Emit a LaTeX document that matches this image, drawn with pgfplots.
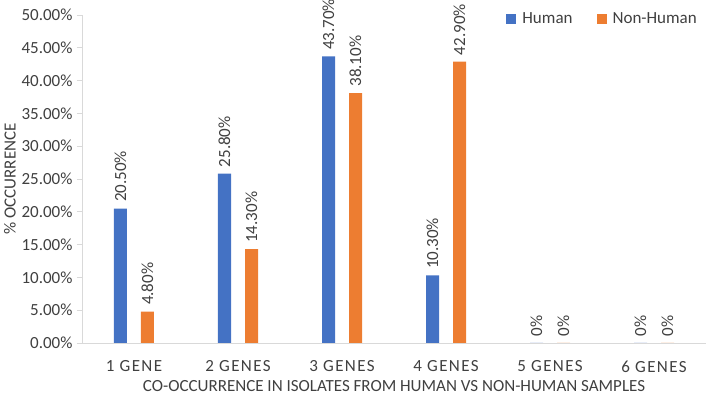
\documentclass[border=0pt]{standalone}
\usepackage{pgfplots}
\pgfplotsset{compat=1.18}
\usepackage{pgfplotstable}
\usepackage{fontspec}
\setmainfont{Carlito}
\newfontfamily\spaced[LetterSpace=8]{Carlito}
\definecolor{cblue}{HTML}{4472C4}
\definecolor{corange}{HTML}{ED7D31}
\definecolor{txt}{HTML}{404040}
\definecolor{axgray}{HTML}{D9D9D9}
\pgfplotstableread{
x human hlab nonhuman nlab
0 20.5 20.50 4.8 4.80
1 25.8 25.80 14.3 14.30
2 43.7 43.70 38.1 38.10
3 10.3 10.30 42.9 42.90
4 0 0 0 0
5 0 0 0 0
}\datatab
\begin{document}
\begin{tikzpicture}
\begin{axis}[
  name=ax,
  scale only axis,
  width=624pt, height=328pt,
  xmin=-0.5, xmax=5.5,
  ymin=0, ymax=50,
  xtick={0,1,2,3,4,5},
  xticklabels={1 GENE,2 GENES,3 GENES,4 GENES,5 GENES,6 GENES},
  xticklabel style={font=\fontsize{17}{19}\selectfont\spaced, text=txt, yshift=-9pt},
  ytick={0,5,10,15,20,25,30,35,40,45,50},
  yticklabels={0.00\%,5.00\%,10.00\%,15.00\%,20.00\%,25.00\%,30.00\%,35.00\%,40.00\%,45.00\%,50.00\%},
  yticklabel style={font=\fontsize{17}{19}\selectfont, text=txt, xshift=-1pt},
  axis x line*=bottom,
  axis y line*=left,
  x axis line style={draw=axgray, line width=0.8pt, -},
  y axis line style={draw=axgray, line width=0.8pt, -},
  major x tick style={draw=none},
  major y tick style={draw=axgray, line width=0.8pt},
  tick align=outside,
  major tick length=5pt,
  xlabel={CO-OCCURRENCE IN ISOLATES FROM HUMAN VS NON-HUMAN SAMPLES},
  xlabel style={font=\fontsize{17}{19}\selectfont, text=txt, yshift=-1pt},
  ylabel={\% OCCURRENCE},
  ylabel style={font=\fontsize{17}{19}\selectfont, text=txt, yshift=-1pt},
  ybar, bar width=13pt,
  nodes near coords={\pgfplotspointmeta\%},
  every node near coord/.append style={rotate=90, anchor=west, font=\fontsize{17}{19}\selectfont, text=txt, xshift=3pt},
  point meta=explicit symbolic,
  legend style={at={(rel axis cs:0.675,0.988)}, anchor=west, draw=none, fill=none,
    legend columns=2, font=\fontsize{17}{19}\selectfont, text=txt,
    /tikz/every even column/.append style={column sep=22pt},
    /tikz/every odd column/.append style={column sep=4pt}},
  legend image code/.code={\fill (0pt,-5pt) rectangle (10pt,5pt);},
  clip=false,
]
\addplot[fill=cblue, draw=none, bar shift=-13.5pt] table[x=x, y=human, meta=hlab] {\datatab};
\addplot[fill=corange, draw=none, bar shift=13.5pt] table[x=x, y=nonhuman, meta=nlab] {\datatab};
\legend{Human,Non-Human}
\end{axis}
\pgfresetboundingbox
\path[use as bounding box] ([xshift=-82pt,yshift=-51pt]ax.south west) rectangle ([yshift=15pt]ax.north east);
\end{tikzpicture}
\end{document}
